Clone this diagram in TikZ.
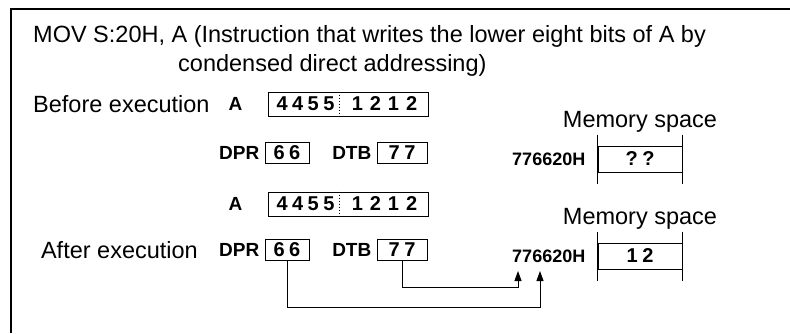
\documentclass[tikz,border=0pt]{standalone}
\usepackage{fontspec}
\setmainfont{Liberation Sans}
\usetikzlibrary{arrows.meta,positioning}
\newcommand{\dg}{\hspace{4.5pt}}
\newcommand{\dgw}{\hspace{7pt}}
\tikzset{
  txt/.style={inner sep=0pt,font=\fontsize{23.5}{28}\selectfont},
  lab/.style={inner sep=0pt,font=\fontsize{19}{22}\selectfont\bfseries},
  addr/.style={inner sep=0pt,font=\fontsize{18}{22}\selectfont\bfseries},
  dig/.style={inner sep=0pt,font=\fontsize{20}{24}\selectfont\bfseries},
  reg/.style={draw,line width=1pt,minimum height=21pt,inner sep=0pt,font=\fontsize{20}{24}\selectfont\bfseries},
  mem/.style={draw,line width=1pt,minimum width=84pt,minimum height=26pt,inner sep=0pt,font=\fontsize{20}{24}\selectfont\bfseries},
  bar/.style={line width=1pt},
  sep/.style={dotted,line width=1pt},
  ar/.style={-{Triangle[length=10pt,width=7pt]},line width=1pt}
}
\begin{document}
\begin{tikzpicture}[x=1pt,y=-1pt]
\useasboundingbox (0,0) rectangle (790,333);
\draw[line width=2pt] (11,333) |- (790,9);
% title
\node[txt,anchor=base west] (t1) at (33,42) {MOV S:20H, A (Instruction that writes the lower eight bits of A by};
\node[txt,anchor=base west] (t2) at (178,71) {condensed direct addressing)};
% before execution
\node[reg,minimum width=160pt,minimum height=24pt] (aB) at (348,104) {};
\node[dig] (aBhi) at ([xshift=38pt]aB.west) {4\dg4\dg5\dg5};
\node[dig] (aBlo) at ([xshift=117pt]aB.west) {1\dgw2\dgw1\dgw2};
\draw[sep] ([xshift=72pt]aB.north west) -- ([xshift=72pt]aB.south west);
\node[lab,left=25pt of aB] (aBn) {A};
\node[txt,anchor=west] (bef) at (33,104) {Before execution};
\node[reg,minimum width=44pt] (dprB) at (287,153) {6\dg6};
\node[lab,left=5pt of dprB] (dprBn) {DPR};
\node[reg,minimum width=50pt] (dtbB) at (402,153) {7\dg7};
\node[lab,left=5pt of dtbB] (dtbBn) {DTB};
\node[mem] (memB) at (640,159) {?\dg?};
\node[addr,left=12pt of memB] (adrB) {776620H};
\node[txt,above=13pt of memB] (memBn) {Memory space};
\draw[bar] ([yshift=11pt]memB.north west) -- ([yshift=-11pt]memB.south west);
\draw[bar] ([yshift=11pt]memB.north east) -- ([yshift=-11pt]memB.south east);
% after execution
\node[reg,minimum width=160pt,minimum height=24pt] (aA) at (348,204) {};
\node[dig] (aAhi) at ([xshift=38pt]aA.west) {4\dg4\dg5\dg5};
\node[dig] (aAlo) at ([xshift=117pt]aA.west) {1\dgw2\dgw1\dgw2};
\draw[sep] ([xshift=72pt]aA.north west) -- ([xshift=72pt]aA.south west);
\node[lab,left=25pt of aA] (aAn) {A};
\node[reg,minimum width=44pt] (dprA) at (287,250) {6\dg6};
\node[lab,left=5pt of dprA] (dprAn) {DPR};
\node[txt,anchor=east] (aft) at (198,250) {After execution};
\node[reg,minimum width=50pt] (dtbA) at (402,250) {7\dg7};
\node[lab,left=5pt of dtbA] (dtbAn) {DTB};
\node[mem] (memA) at (640,256) {1\dg2};
\node[addr,left=12pt of memA] (adrA) {776620H};
\node[txt,above=13pt of memA] (memAn) {Memory space};
\draw[bar] ([yshift=11pt]memA.north west) -- ([yshift=-11pt]memA.south west);
\draw[bar] ([yshift=11pt]memA.north east) -- ([yshift=-11pt]memA.south east);
% address path
\coordinate (tipT) at (518,271);
\coordinate (tipP) at (540,271);
\coordinate (railT) at (0,287);
\coordinate (railP) at (0,307);
\draw[ar] (dtbA.south) |- (tipT |- railT) -- (tipT);
\draw[ar] (dprA.south) |- (tipP |- railP) -- (tipP);
\end{tikzpicture}
\end{document}
